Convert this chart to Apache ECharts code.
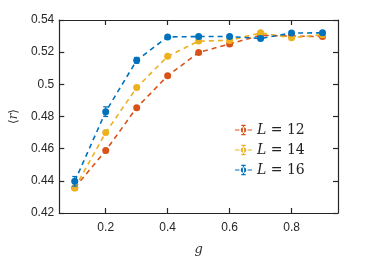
<!DOCTYPE html>
<html><head><meta charset="utf-8">
<script src="https://cdn.jsdelivr.net/npm/echarts@6/dist/echarts.min.js"></script>
<style>html,body{margin:0;padding:0;background:#fff}#c{width:374px;height:261px}</style>
</head><body><div id="c"></div>
<script>
var gValues = [0.1, 0.2, 0.3, 0.4, 0.5, 0.6, 0.7, 0.8, 0.9];
var meanL12 = [0.4357, 0.4588, 0.4855, 0.5053, 0.5198, 0.5251, 0.5305, 0.5300, 0.5297];
var errL12  = [0.0010, 0.0012, 0.0012, 0.0008, 0.0008, 0.0008, 0.0008, 0.0008, 0.0008];
var meanL14 = [0.4355, 0.4700, 0.4980, 0.5174, 0.5269, 0.5273, 0.5320, 0.5289, 0.5309];
var errL14  = [0.0012, 0.0012, 0.0012, 0.0010, 0.0008, 0.0008, 0.0008, 0.0008, 0.0008];
var meanL16 = [0.4397, 0.4830, 0.5149, 0.5295, 0.5297, 0.5297, 0.5285, 0.5319, 0.5320];
var errL16  = [0.0030, 0.0030, 0.0018, 0.0008, 0.0008, 0.0008, 0.0008, 0.0008, 0.0008];
var seriesNames = ['L12', 'L14', 'L16'];
var seriesLabels = ['12', '14', '16'];
var colors = ['#D95319', '#EDB120', '#0072BD'];
var xTicks = [0.2, 0.4, 0.6, 0.8];

var means = [meanL12, meanL14, meanL16];
var errs = [errL12, errL14, errL16];
var axisColor = '#262626';
var iconPath = 'path://M0,4.6h4.5v1.2h-4.5z M12.5,4.6h4.5v1.2h-4.5z M7.9,0h1.2v10.4h-1.2z M6.3,0h4.4v1.2h-4.4z M6.3,9.2h4.4v1.2h-4.4z M5.8,5.2a2.7,2.7 0 1,0 5.4,0a2.7,2.7 0 1,0 -5.4,0z';

var series = [];
for (var k = 0; k < 3; k++) {
  (function(k){
    var ebData = gValues.map(function(g, i){ return [g, means[k][i] - errs[k][i], means[k][i] + errs[k][i]]; });
    series.push({
      name: seriesNames[k], type: 'line', z: 3 + k * 2,
      data: gValues.map(function(g, i){ return [g, means[k][i]]; }),
      symbol: 'circle', symbolSize: 7, showSymbol: true,
      lineStyle: { color: colors[k], width: 1.6, type: [5, 4] },
      itemStyle: { color: colors[k] },
      emphasis: { disabled: true }, animation: false
    });
    series.push({
      name: seriesNames[k], type: 'custom', z: 4 + k * 2,
      data: ebData, animation: false,
      encode: { x: 0, y: [1, 2] },
      renderItem: function(params, api){
        var x = api.value(0);
        var lo = api.coord([x, api.value(1)]);
        var hi = api.coord([x, api.value(2)]);
        var hw = 2.5;
        var st = { stroke: colors[k], lineWidth: 1.2, fill: null };
        return { type: 'group', children: [
          { type: 'line', shape: { x1: lo[0], y1: lo[1], x2: hi[0], y2: hi[1] }, style: st },
          { type: 'line', shape: { x1: lo[0]-hw, y1: lo[1], x2: lo[0]+hw, y2: lo[1] }, style: st },
          { type: 'line', shape: { x1: hi[0]-hw, y1: hi[1], x2: hi[0]+hw, y2: hi[1] }, style: st }
        ]};
      }
    });
  })(k);
}

var chart = echarts.init(document.getElementById('c'), null, { renderer: 'canvas' });
chart.setOption({
  animation: false,
  backgroundColor: '#fff',
  grid: { left: 49, right: 36, top: 20, bottom: 39 },
  legend: {
    orient: 'vertical', left: 230, top: 118, itemGap: 6,
    itemWidth: 17, itemHeight: 11,
    data: seriesNames.map(function(n, k){ return { name: n, icon: iconPath, itemStyle: { color: colors[k] } }; }),
    formatter: function(name){ var k = seriesNames.indexOf(name); return '{i|L} = ' + seriesLabels[k]; },
    textStyle: { fontFamily: 'DejaVu Serif', fontSize: 14, color: '#222',
      rich: { i: { fontFamily: 'DejaVu Serif', fontStyle: 'italic', fontSize: 14, color: '#222' } } },
    selectedMode: false
  },
  xAxis: [{
    type: 'value', min: 0.05, max: 0.95, position: 'bottom',
    name: 'g', nameLocation: 'middle', nameGap: 30,
    nameTextStyle: { fontFamily: 'DejaVu Serif', fontStyle: 'italic', fontSize: 13, color: '#333' },
    axisLine: { show: true, onZero: false, lineStyle: { color: axisColor, width: 1.2 } },
    axisTick: { show: true, inside: true, length: 5, customValues: xTicks, lineStyle: { color: axisColor, width: 1.2 } },
    axisLabel: { customValues: xTicks, fontFamily: 'Liberation Sans', fontSize: 12, color: '#262626', margin: 9,
      formatter: function(v){ return String(Math.round(v*10)/10); } },
    splitLine: { show: false }
  }, {
    type: 'value', min: 0.05, max: 0.95, position: 'top',
    axisLine: { show: true, onZero: false, lineStyle: { color: axisColor, width: 1.2 } },
    axisTick: { show: true, inside: true, length: 5, customValues: xTicks, lineStyle: { color: axisColor, width: 1.2 } },
    axisLabel: { show: false }, splitLine: { show: false }
  }],
  yAxis: [{
    type: 'value', min: 0.42, max: 0.54, interval: 0.02, position: 'left',
    name: '⟨{i|r}⟩', nameLocation: 'middle', nameGap: 36, nameRotate: 90,
    nameTextStyle: { fontFamily: 'DejaVu Serif', fontSize: 12, color: '#333',
      rich: { i: { fontFamily: 'DejaVu Serif', fontStyle: 'italic', fontSize: 12, color: '#333' } } },
    axisLine: { show: true, onZero: false, lineStyle: { color: axisColor, width: 1.2 } },
    axisTick: { show: true, inside: true, length: 5, lineStyle: { color: axisColor, width: 1.2 } },
    axisLabel: { fontFamily: 'Liberation Sans', fontSize: 12, color: '#262626', margin: 5,
      formatter: function(v){ return String(Math.round(v*100)/100); } },
    splitLine: { show: false }
  }, {
    type: 'value', min: 0.42, max: 0.54, interval: 0.02, position: 'right',
    axisLine: { show: true, onZero: false, lineStyle: { color: axisColor, width: 1.2 } },
    axisTick: { show: true, inside: true, length: 5, lineStyle: { color: axisColor, width: 1.2 } },
    axisLabel: { show: false }, splitLine: { show: false }
  }],
  series: series
});
</script>
</body></html>
